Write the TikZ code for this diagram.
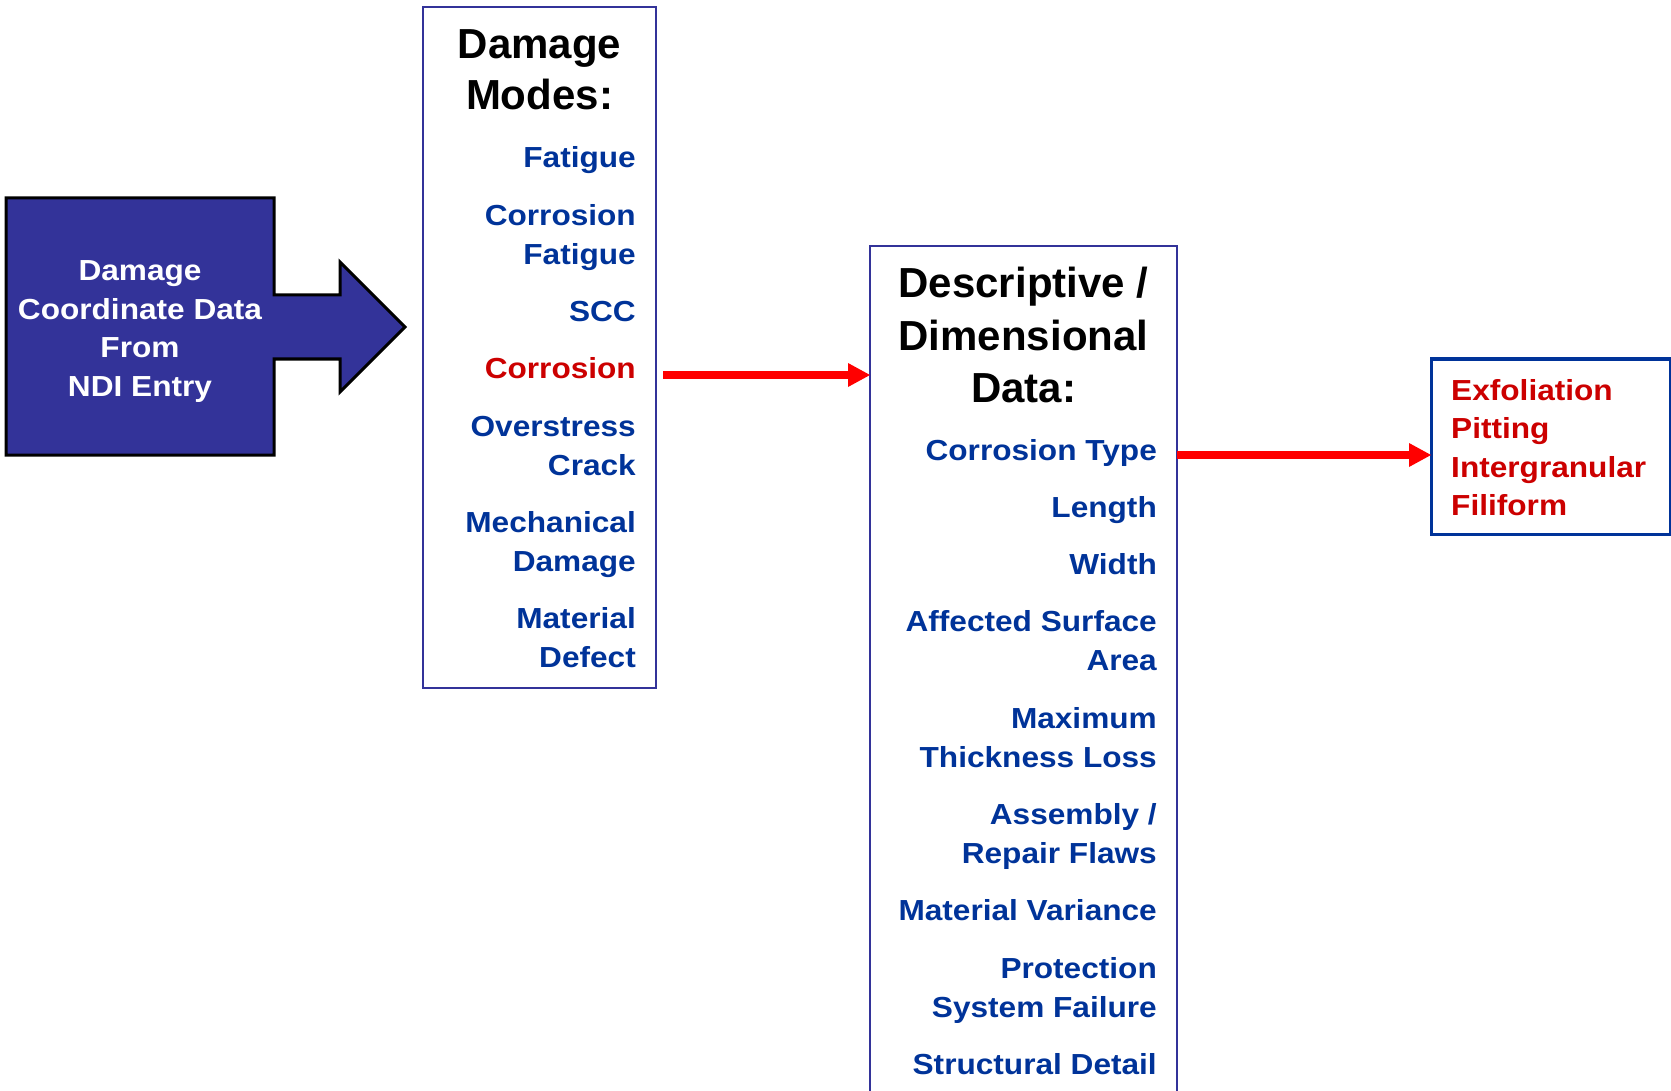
\documentclass[tikz,border=0pt]{standalone}
\usepackage{fontspec}
\setmainfont{Liberation Sans}
\newfontfamily\itemfont{Liberation Sans}[FakeStretch=1.09]
\usetikzlibrary{arrows.meta}
\definecolor{itemblue}{RGB}{0,51,153}
\definecolor{boxpurple}{RGB}{51,51,153}
\definecolor{itemred}{RGB}{204,0,0}
\definecolor{arrowred}{RGB}{255,0,0}
\tikzset{
  itemtext/.style={anchor=base east, inner sep=0pt, text=itemblue,
    font=\itemfont\bfseries\fontsize{29}{39}\selectfont},
  hotitem/.style={itemtext, text=itemred},
  leftitem/.style={itemtext, anchor=base west, text=itemred},
  ndiline/.style={itemtext, anchor=base, text=white},
  titletext/.style={anchor=base, inner sep=0pt, text=black,
    font=\bfseries\fontsize{42}{50}\selectfont},
  framebox/.style={draw=boxpurple, line width=2.5pt, inner sep=0pt,
    outer sep=0pt, anchor=north west, rectangle},
  redarrow/.style={draw=arrowred, line width=8.5pt,
    -{Triangle[length=22pt,width=24pt,line width=0pt]}},
}
\begin{document}
\begin{tikzpicture}[x=1pt,y=-1pt]
\useasboundingbox (0,0) rectangle (1671,1091);
\clip (0,0) rectangle (1671,1091);

% left input block with arrow
\draw[fill=boxpurple, line width=3pt, line join=miter]
  (6,198) -- (274,198) -- (274,295) -- (340,295) -- (340,262) -- (405,327)
  -- (340,392) -- (340,359) -- (274,359) -- (274,455) -- (6,455) -- cycle;
\node[ndiline] (ndi1) at (140,281) {Damage};
\node[ndiline] (ndi2) at (140,319.5) {Coordinate Data};
\node[ndiline] (ndi3) at (140,358) {From};
\node[ndiline] (ndi4) at (140,396.5) {NDI Entry};

% damage modes box
\node[framebox, minimum width=233pt, minimum height=681pt] (dm) at (423,7) {};
\node[titletext] (dmt1) at (539.5,59) {Damage};
\node[titletext] (dmt2) at (539.5,110) {Modes:};
\node[itemtext] (m1) at (636,168) {Fatigue};
\node[itemtext] (m2a) at (636,225.3) {Corrosion};
\node[itemtext] (m2b) at (636,264.3) {Fatigue};
\node[itemtext] (m3) at (636,321.6) {SCC};
\node[hotitem] (m4) at (636,378.9) {Corrosion};
\node[itemtext] (m5a) at (636,436.2) {Overstress};
\node[itemtext] (m5b) at (636,475.2) {Crack};
\node[itemtext] (m6a) at (636,532.5) {Mechanical};
\node[itemtext] (m6b) at (636,571.5) {Damage};
\node[itemtext] (m7a) at (636,628.8) {Material};
\node[itemtext] (m7b) at (636,667.8) {Defect};

% descriptive / dimensional data box
\node[framebox, minimum width=307pt, minimum height=900pt] (desc) at (870,246) {};
\node[titletext] (dt1) at (1023.5,298) {Descriptive /};
\node[titletext] (dt2) at (1023.5,350) {Dimensional};
\node[titletext] (dt3) at (1023.5,402) {Data:};
\node[itemtext] (d1) at (1157,460) {Corrosion Type};
\node[itemtext] (d2) at (1157,517.3) {Length};
\node[itemtext] (d3) at (1157,574.6) {Width};
\node[itemtext] (d4a) at (1157,631.9) {Affected Surface};
\node[itemtext] (d4b) at (1157,670.9) {Area};
\node[itemtext] (d5a) at (1157,728.2) {Maximum};
\node[itemtext] (d5b) at (1157,767.2) {Thickness Loss};
\node[itemtext] (d6a) at (1157,824.5) {Assembly /};
\node[itemtext] (d6b) at (1157,863.5) {Repair Flaws};
\node[itemtext] (d7) at (1157,920.8) {Material Variance};
\node[itemtext] (d8a) at (1157,978.1) {Protection};
\node[itemtext] (d8b) at (1157,1017.1) {System Failure};
\node[itemtext] (d9) at (1157,1074.4) {Structural Detail};

% corrosion types box
\node[framebox, draw=itemblue, line width=3pt, minimum width=239pt, minimum height=175pt] (ctype) at (1431,359) {};
\node[leftitem] (c1) at (1451,400) {Exfoliation};
\node[leftitem] (c2) at (1451,438.5) {Pitting};
\node[leftitem] (c3) at (1451,477) {Intergranular};
\node[leftitem] (c4) at (1451,515.5) {Filiform};

% connectors
\coordinate (a1s) at (663,375);
\coordinate (a2y) at (0,455);
\draw[redarrow] (a1s) -- (desc.west |- a1s);
\draw[redarrow] (desc.east |- a2y) -- (ctype.west |- a2y);
\end{tikzpicture}
\end{document}
